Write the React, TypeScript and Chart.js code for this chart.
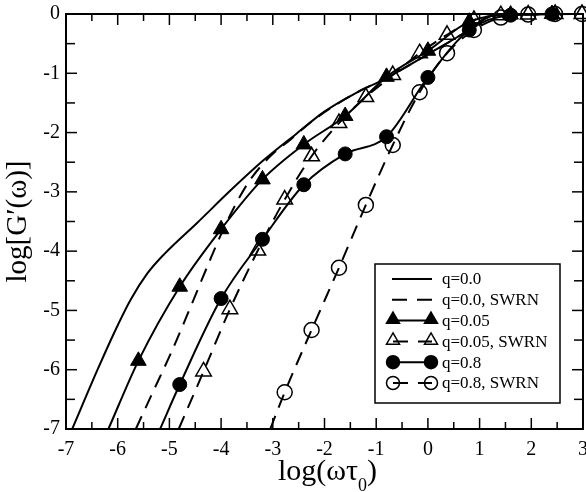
import React, { useEffect, useRef } from "react";
import { Chart, registerables } from "chart.js";

Chart.register(...registerables);

// ---- data (log10 values) ----
const xTickMin = -7;
const xTickMax = 3;
const yTickMin = -7;
const yTickMax = 0;

const seriesLabels = [
  "q=0.0",
  "q=0.0, SWRN",
  "q=0.05",
  "q=0.05, SWRN",
  "q=0.8",
  "q=0.8, SWRN",
];

// q=0.0 (solid, no markers)
const q00X = [-6.88, -6.39, -6.07, -5.75, -5.43, -5.10, -4.46, -3.81, -3.17, -2.53, -2.01, -1.43, -0.80, 0.00, 0.79, 1.10, 1.40, 3.00];
const q00Y = [-7.00, -6.00, -5.38, -4.82, -4.38, -4.05, -3.52, -2.97, -2.46, -2.01, -1.65, -1.35, -1.08, -0.68, -0.27, -0.08, -0.01, 0.00];

// q=0.0, SWRN (dashed, no markers)
const q00sX = [-5.65, -5.30, -4.97, -4.59, -4.20, -3.95, -3.70, -3.44, -3.05, -2.66, -2.20, -1.43, -0.80, 0.00, 0.79, 1.10, 1.40, 3.00];
const q00sY = [-7.00, -6.34, -5.72, -4.94, -4.12, -3.62, -3.18, -2.80, -2.40, -2.12, -1.78, -1.35, -1.08, -0.68, -0.27, -0.08, -0.01, 0.00];

// q=0.05 (filled triangles; first point = where the curve leaves the frame)
const q005X = [-6.18, -5.60, -4.80, -4.00, -3.20, -2.40, -1.60, -0.80, 0.00, 0.80, 1.60, 2.40];
const q005Y = [-7.00, -5.85, -4.60, -3.63, -2.79, -2.20, -1.72, -1.06, -0.62, -0.13, -0.01, 0.00];

// q=0.05, SWRN (open triangles)
const q005sX = [-4.82, -4.34, -3.83, -3.29, -2.77, -2.25, -1.72, -1.20, -0.68, -0.16, 0.37, 0.89, 1.41, 1.94, 2.46, 2.98];
const q005sY = [-7.00, -6.03, -4.98, -3.99, -3.13, -2.40, -1.84, -1.40, -1.03, -0.66, -0.35, -0.10, -0.02, -0.01, 0.00, 0.00];

// q=0.8 (filled circles)
const q08X = [-5.18, -4.80, -4.00, -3.20, -2.40, -1.60, -0.80, 0.00, 0.80, 1.60, 2.40];
const q08Y = [-7.00, -6.25, -4.80, -3.80, -2.88, -2.36, -2.07, -1.07, -0.27, -0.02, 0.00];

// q=0.8, SWRN (open circles)
const q08sX = [-3.05, -2.77, -2.25, -1.72, -1.20, -0.68, -0.16, 0.37, 0.89, 1.41, 1.94, 2.46, 2.98];
const q08sY = [-7.00, -6.38, -5.33, -4.28, -3.22, -2.21, -1.32, -0.66, -0.27, -0.06, -0.01, 0.00, 0.00];

const SERIF = '"Liberation Serif", "Times New Roman", serif';
const DASH = [14, 9];

const pts = (xs: number[], ys: number[]) => xs.map((x, i) => ({ x, y: ys[i] }));

// first point of marker series is only the frame crossing: no marker there
const markerRadius = (r: number) => (c: any) => (c.dataIndex === 0 ? 0 : r);

function drawMarker(ctx: CanvasRenderingContext2D, style: string, x: number, y: number, r: number, filled: boolean) {
  ctx.save();
  ctx.setLineDash([]);
  ctx.beginPath();
  if (style === "triangle") {
    ctx.moveTo(x, y - r);
    ctx.lineTo(x + 0.866 * r, y + 0.5 * r);
    ctx.lineTo(x - 0.866 * r, y + 0.5 * r);
    ctx.closePath();
  } else {
    ctx.arc(x, y, r, 0, Math.PI * 2);
  }
  if (filled) {
    ctx.fillStyle = "#000";
    ctx.fill();
  }
  ctx.lineWidth = 1.5;
  ctx.strokeStyle = "#000";
  ctx.stroke();
  ctx.restore();
}

const framePlugin = {
  id: "frame",
  beforeDatasetsDraw(chart: any) {
    const { ctx, chartArea: a, scales } = chart;
    const xs = scales.x;
    const ys = scales.y;
    ctx.save();
    ctx.strokeStyle = "#000";
    ctx.lineWidth = 1.5;
    ctx.setLineDash([]);
    const seg = (x1: number, y1: number, x2: number, y2: number) => {
      ctx.beginPath();
      ctx.moveTo(x1, y1);
      ctx.lineTo(x2, y2);
      ctx.stroke();
    };
    const xMajor = xs.ticks.map((t: any) => t.value);
    xMajor.forEach((v: number, i: number) => {
      const p = xs.getPixelForValue(v);
      seg(p, a.bottom, p, a.bottom - 11);
      seg(p, a.top, p, a.top + 11);
      if (i < xMajor.length - 1) {
        const m = xs.getPixelForValue((v + xMajor[i + 1]) / 2);
        seg(m, a.bottom, m, a.bottom - 7);
        seg(m, a.top, m, a.top + 7);
      }
    });
    const yMajor = ys.ticks.map((t: any) => t.value);
    yMajor.forEach((v: number, i: number) => {
      const p = ys.getPixelForValue(v);
      seg(a.left, p, a.left + 11, p);
      seg(a.right, p, a.right - 11, p);
      if (i < yMajor.length - 1) {
        const m = ys.getPixelForValue((v + yMajor[i + 1]) / 2);
        seg(a.left, m, a.left + 9, m);
        seg(a.right, m, a.right - 9, m);
      }
    });
    ctx.lineWidth = 2;
    ctx.strokeRect(a.left, a.top, a.right - a.left, a.bottom - a.top);
    ctx.restore();
  },
  afterDraw(chart: any) {
    const { ctx, chartArea: a } = chart;
    ctx.save();
    // x-axis title with subscript
    const big = `30px ${SERIF}`;
    const small = `18px ${SERIF}`;
    ctx.fillStyle = "#000";
    ctx.textBaseline = "alphabetic";
    ctx.textAlign = "left";
    ctx.font = big;
    const p1 = "log(\u03C9\u03C4";
    const p3 = ")";
    const w1 = ctx.measureText(p1).width;
    const w3 = ctx.measureText(p3).width;
    ctx.font = small;
    const w2 = ctx.measureText("0").width;
    const cx = (a.left + a.right) / 2 + 3;
    let x = cx - (w1 + w2 + w3) / 2;
    ctx.font = big;
    ctx.fillText(p1, x, 480);
    x += w1;
    ctx.font = small;
    ctx.fillText("0", x, 491);
    x += w2;
    ctx.font = big;
    ctx.fillText(p3, x, 480);

    // legend box
    const bx = 375, by = 264, bw = 185, bh = 139;
    ctx.fillStyle = "#fff";
    ctx.fillRect(bx, by, bw, bh);
    ctx.lineWidth = 1.5;
    ctx.strokeStyle = "#000";
    ctx.setLineDash([]);
    ctx.strokeRect(bx, by, bw, bh);
    const x1 = 393, x2 = 431;
    chart.data.datasets.forEach((ds: any, i: number) => {
      const y = 279 + i * 20.8;
      ctx.save();
      ctx.strokeStyle = "#000";
      ctx.lineWidth = 2;
      ctx.setLineDash(ds.borderDash && ds.borderDash.length ? [15, 10] : []);
      ctx.beginPath();
      ctx.moveTo(ds.legendMarker ? x1 : 392, y);
      ctx.lineTo(x2 + 1, y);
      ctx.stroke();
      ctx.restore();
      if (ds.legendMarker) {
        const filled = ds.pointBackgroundColor === "#000";
        const r = ds.pointStyle === "triangle" ? 7.5 : 6.5;
        const yy = ds.pointStyle === "triangle" ? y - 1 : y;
        drawMarker(ctx, ds.pointStyle, x1, yy, r, filled);
        drawMarker(ctx, ds.pointStyle, x2, yy, r, filled);
      }
      ctx.fillStyle = "#000";
      ctx.font = `17px ${SERIF}`;
      ctx.textBaseline = "middle";
      ctx.textAlign = "left";
      ctx.fillText(ds.label, 442, y + 1);
    });
    ctx.restore();
  },
};

const noScalePadding = (s: any) => {
  s.paddingLeft = 0;
  s.paddingRight = 0;
  s.paddingTop = 0;
  s.paddingBottom = 0;
};

export default function App() {
  const ref = useRef<HTMLCanvasElement | null>(null);

  useEffect(() => {
    if (!ref.current) return;
    const common = {
      borderColor: "#000",
      borderWidth: 2,
      cubicInterpolationMode: "monotone" as const,
      clip: false as any,
      pointBorderColor: "#000",
    };
    const chart = new Chart(ref.current, {
      type: "line",
      data: {
        datasets: [
          {
            ...common,
            label: seriesLabels[0],
            data: pts(q00X, q00Y),
            pointRadius: 0,
            borderDash: [],
          },
          {
            ...common,
            label: seriesLabels[1],
            data: pts(q00sX, q00sY),
            pointRadius: 0,
            borderDash: DASH,
          },
          {
            ...common,
            label: seriesLabels[2],
            data: pts(q005X, q005Y),
            pointStyle: "triangle",
            pointRadius: markerRadius(9),
            pointBackgroundColor: "#000",
            pointBorderWidth: 1,
            borderDash: [],
            legendMarker: true,
          } as any,
          {
            ...common,
            label: seriesLabels[3],
            data: pts(q005sX, q005sY),
            pointStyle: "triangle",
            pointRadius: markerRadius(9),
            pointBackgroundColor: "rgba(0,0,0,0)",
            pointBorderWidth: 1.5,
            borderDash: DASH,
            legendMarker: true,
          } as any,
          {
            ...common,
            label: seriesLabels[4],
            data: pts(q08X, q08Y),
            pointStyle: "circle",
            pointRadius: markerRadius(7),
            pointBackgroundColor: "#000",
            pointBorderWidth: 1,
            borderDash: [],
            legendMarker: true,
          } as any,
          {
            ...common,
            label: seriesLabels[5],
            data: pts(q08sX, q08sY),
            pointStyle: "circle",
            pointRadius: markerRadius(7.5),
            pointBackgroundColor: "rgba(0,0,0,0)",
            pointBorderWidth: 1.5,
            borderDash: DASH,
            legendMarker: true,
          } as any,
        ],
      },
      options: {
        responsive: false,
        animation: false,
        events: [],
        layout: { padding: { top: 14, right: 3, left: 0, bottom: 0 }, autoPadding: false },
        plugins: {
          legend: { display: false },
          tooltip: { enabled: false },
        },
        scales: {
          x: {
            type: "linear",
            min: xTickMin,
            max: xTickMax,
            grid: { display: false, drawTicks: false },
            border: { display: false },
            ticks: {
              stepSize: 1,
              color: "#000",
              padding: 9,
              maxRotation: 0,
              autoSkip: false,
              font: { family: SERIF, size: 20 },
            },
            afterFit: (s: any) => {
              s.height = 63;
              noScalePadding(s);
            },
          },
          y: {
            type: "linear",
            min: yTickMin,
            max: yTickMax,
            grid: { display: false, drawTicks: false },
            border: { display: false },
            ticks: {
              stepSize: 1,
              color: "#000",
              padding: 6,
              autoSkip: false,
              font: { family: SERIF, size: 20 },
            },
            title: {
              display: true,
              text: "log[G\u2032(\u03C9)]",
              color: "#000",
              font: { family: SERIF, size: 29 },
              padding: { top: 1, bottom: 0 },
            },
            afterFit: (s: any) => {
              s.width = 66;
              noScalePadding(s);
            },
          },
        },
      },
      plugins: [framePlugin],
    });
    return () => chart.destroy();
  }, []);

  return (
    <div style={{ position: "fixed", left: 0, top: 0, width: 586, height: 492, background: "#fff" }}>
      <canvas ref={ref} width={586} height={492} style={{ width: 586, height: 492, display: "block" }} />
    </div>
  );
}
